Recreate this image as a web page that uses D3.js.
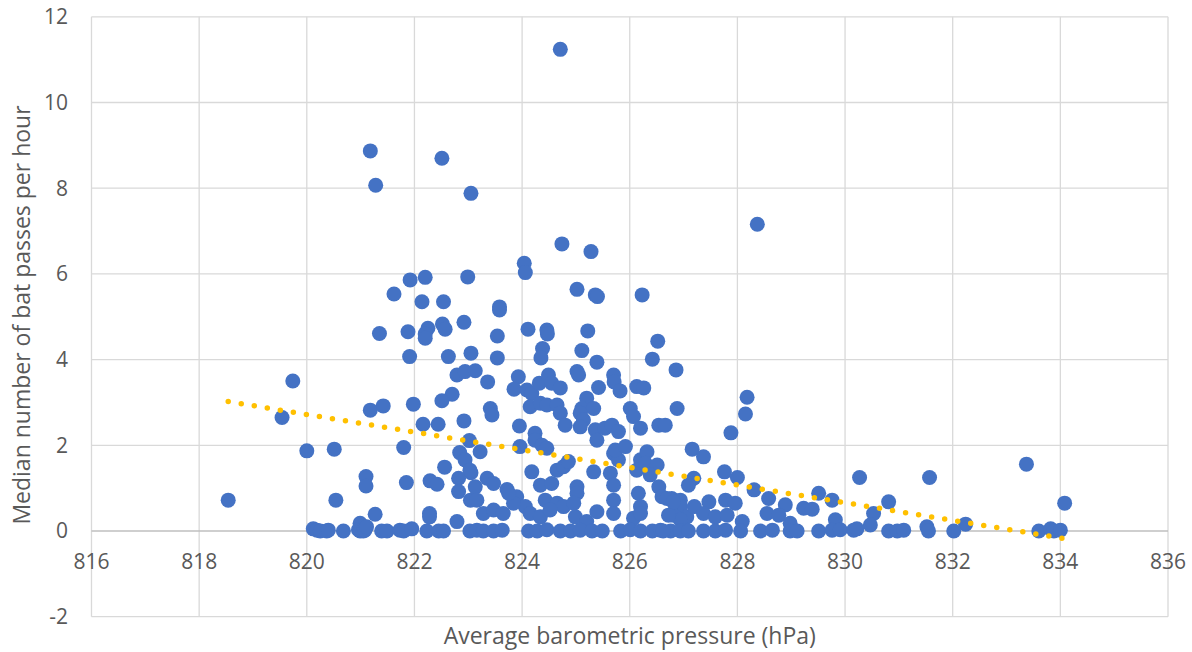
<!DOCTYPE html>
<html>
<head>
<meta charset="utf-8">
<title>Bat passes vs barometric pressure</title>
<script src="https://cdn.jsdelivr.net/npm/d3@7"></script>
<style>
  body { margin: 0; background: #fff; }
  text { font-family: "Open Sans", "Liberation Sans", sans-serif; fill: #595959; }
</style>
</head>
<body>
<svg id="chart" width="1192" height="652"></svg>
<script>
// average barometric pressure (hPa), one entry per night
const pressure = [
  824.71, 821.18, 822.51, 821.28, 823.05, 828.37, 824.74, 825.28, 824.04, 824.06,
  822.99, 822.20, 821.92, 825.02, 821.62, 825.36, 825.40, 826.23, 822.14, 822.54,
  823.58, 823.58, 822.92, 822.52, 822.57, 822.25, 822.20, 822.20, 821.35, 821.88,
  824.11, 824.46, 824.47, 825.22, 823.54, 826.52, 824.38, 824.35, 825.11, 823.05,
  821.91, 822.63, 823.54, 825.39, 826.42, 826.86, 822.79, 822.94, 823.13, 819.74,
  823.36, 823.93, 823.85, 824.09, 824.18, 824.32, 824.49, 824.55, 824.71, 825.02,
  825.05, 825.70, 825.71, 825.82, 825.42, 826.13, 826.26, 822.70, 826.88, 823.41,
  824.15, 824.34, 824.46, 824.65, 825.20, 825.11, 825.33, 826.01, 819.54, 821.18,
  821.42, 821.98, 822.51, 822.16, 822.44, 822.92, 823.02, 820.00, 820.51, 821.80,
  822.84, 822.94, 822.56, 823.05, 821.10, 821.10, 821.85, 822.29, 822.42, 822.82,
  822.82, 823.04, 823.13, 818.54, 820.54, 821.27, 822.28, 822.28, 822.79, 820.99,
  820.12, 820.19, 820.25, 820.37, 820.40, 820.68, 820.96, 820.99, 821.05, 821.08,
  821.11, 821.39, 821.49, 821.73, 821.80, 821.95, 822.23, 822.45, 822.54, 823.03,
  823.16,
  824.71, 824.80, 823.95, 825.08, 825.14, 825.08, 825.36, 825.39, 825.54, 825.67,
  825.79, 826.07, 826.20, 826.54, 826.66, 824.24, 824.24, 824.37, 824.46, 823.96,
  823.22, 823.03, 823.16, 823.35, 823.47, 823.72, 823.90, 824.06, 824.18, 824.34,
  824.55, 824.65, 824.77, 824.86, 825.33, 825.02, 825.02, 824.43, 824.65, 824.77,
  824.96, 825.70, 825.79, 825.73, 825.92, 825.64, 825.70, 825.70, 826.13, 826.20,
  826.32, 826.29, 826.51, 826.38, 826.16, 826.20, 826.54, 826.60, 826.78, 826.94,
  826.85, 826.94, 827.06, 823.28, 823.47, 823.65, 823.84, 823.75, 824.15, 824.34,
  824.52, 824.99, 825.20, 825.39, 825.70, 826.07, 826.20, 826.81, 826.94, 823.44,
  823.28, 823.47, 823.63, 824.12, 824.28, 824.46, 824.71, 824.90, 825.08, 825.30,
  825.49, 825.83, 826.01, 826.20, 826.42, 826.57, 826.76, 826.94, 827.09,
  828.18, 828.15, 827.88, 827.16, 827.37, 827.76, 828.00, 827.19, 827.09, 828.31,
  828.58, 828.89, 829.23, 829.39, 829.51, 829.76, 826.69, 826.81, 827.20, 827.47,
  827.78, 827.96, 826.72, 827.37, 827.59, 827.81, 828.09, 828.55, 828.77, 828.98,
  829.82,
  826.62, 827.37, 827.59, 827.78, 828.06, 828.43, 828.65, 828.98, 829.11, 829.51,
  829.76,
  830.27, 831.57, 833.37, 834.08, 830.81, 830.53, 830.47, 832.24, 831.52, 832.02,
  829.91, 830.16, 830.22, 830.81, 830.97, 831.09, 831.55, 833.60, 833.82, 833.88,
  834.00
];

// median number of bat passes per hour, same order as pressure
const batPasses = [
  11.24, 8.87, 8.70, 8.07, 7.88, 7.16, 6.70, 6.52, 6.25, 6.03,
  5.93, 5.92, 5.86, 5.64, 5.53, 5.51, 5.47, 5.51, 5.35, 5.35,
  5.23, 5.16, 4.87, 4.83, 4.71, 4.73, 4.60, 4.50, 4.61, 4.65,
  4.71, 4.69, 4.60, 4.67, 4.55, 4.43, 4.26, 4.04, 4.21, 4.15,
  4.07, 4.07, 4.04, 3.94, 4.01, 3.76, 3.64, 3.72, 3.74, 3.50,
  3.48, 3.60, 3.31, 3.29, 3.21, 3.45, 3.64, 3.45, 3.34, 3.72,
  3.64, 3.64, 3.48, 3.27, 3.35, 3.37, 3.34, 3.19, 2.86, 2.86,
  2.90, 2.98, 2.94, 2.94, 3.10, 2.86, 2.86, 2.86, 2.65, 2.82,
  2.92, 2.96, 3.04, 2.49, 2.49, 2.57, 2.11, 1.87, 1.91, 1.95,
  1.83, 1.66, 1.49, 1.36, 1.27, 1.05, 1.13, 1.17, 1.09, 1.23,
  0.92, 0.72, 1.03, 0.72, 0.72, 0.39, 0.41, 0.33, 0.22, 0.18,
  0.05, 0.02, 0.00, 0.00, 0.02, 0.00, 0.03, 0.00, 0.00, 0.02,
  0.10, 0.00, 0.00, 0.02, 0.00, 0.05, 0.00, 0.00, 0.00, 0.00,
  0.02,
  2.75, 2.47, 2.45, 2.75, 2.59, 2.43, 2.36, 2.12, 2.40, 2.47,
  2.32, 2.67, 2.40, 2.47, 2.47, 2.28, 2.12, 2.00, 1.93, 1.97,
  1.85, 1.42, 0.72, 1.23, 1.11, 0.97, 0.80, 0.57, 1.38, 1.07,
  1.11, 1.42, 1.50, 1.62, 1.38, 1.03, 0.88, 0.72, 0.65, 0.57,
  0.65, 1.81, 1.66, 1.89, 1.97, 1.35, 1.07, 0.72, 1.42, 1.66,
  1.85, 1.58, 1.54, 1.31, 0.88, 0.57, 1.03, 0.80, 0.76, 0.72,
  0.49, 0.57, 0.33, 0.41, 0.49, 0.41, 0.65, 0.88, 0.41, 0.33,
  0.49, 0.33, 0.22, 0.45, 0.41, 0.30, 0.41, 0.37, 0.26, 2.71,
  0.00, 0.00, 0.02, 0.00, 0.00, 0.03, 0.00, 0.00, 0.02, 0.00,
  0.00, 0.00, 0.03, 0.00, 0.00, 0.02, 0.00, 0.00, 0.00,
  3.12, 2.73, 2.29, 1.91, 1.73, 1.38, 1.25, 1.23, 1.07, 0.96,
  0.76, 0.61, 0.53, 0.51, 0.88, 0.72, 0.76, 0.68, 0.57, 0.68,
  0.72, 0.65, 0.37, 0.41, 0.33, 0.37, 0.22, 0.41, 0.37, 0.18,
  0.26,
  0.00, 0.00, 0.00, 0.02, 0.00, 0.00, 0.02, 0.00, 0.00, 0.00,
  0.02,
  1.25, 1.25, 1.56, 0.65, 0.68, 0.41, 0.14, 0.16, 0.10, 0.00,
  0.03, 0.02, 0.05, 0.00, 0.00, 0.02, 0.00, 0.00, 0.05, 0.00,
  0.02
];

// linear trendline end points as drawn
const trendPressure = [818.54, 834.08];
const trendPasses = [3.02, -0.18];

const xTicks = [816, 818, 820, 822, 824, 826, 828, 830, 832, 834, 836];
const yTicks = [-2, 0, 2, 4, 6, 8, 10, 12];

const xTitle = "Average barometric pressure (hPa)";
const yTitle = "Median number of bat passes per hour";

var svg = d3.select("#chart"),
    plotLeft = 91.5, plotRight = 1168, plotTop = 16.8, plotBottom = 616.7;

var x = d3.scaleLinear().domain([816, 836]).range([plotLeft, plotRight]),
    y = d3.scaleLinear().domain([-2, 12]).range([plotBottom, plotTop]);

// gridlines
var grid = svg.append("g");
grid.selectAll(".vgrid")
  .data(xTicks)
  .enter().append("line")
    .attr("x1", d => x(d)).attr("x2", d => x(d))
    .attr("y1", plotTop).attr("y2", plotBottom)
    .attr("stroke", "#d9d9d9")
    .attr("stroke-width", 1.3);

grid.selectAll(".hgrid")
  .data(yTicks)
  .enter().append("line")
    .attr("x1", plotLeft).attr("x2", plotRight)
    .attr("y1", d => y(d)).attr("y2", d => y(d))
    .attr("stroke", d => d === 0 ? "#bfbfbf" : "#d9d9d9")
    .attr("stroke-width", 1.3);

// tick labels
svg.append("g").selectAll("text")
  .data(xTicks)
  .enter().append("text")
    .attr("x", d => x(d))
    .attr("y", y(0) + 31)
    .attr("dy", "0.35em")
    .attr("text-anchor", "middle")
    .style("font-size", "21px")
    .text(d => d);

svg.append("g").selectAll("text")
  .data(yTicks)
  .enter().append("text")
    .attr("x", 68)
    .attr("y", d => y(d))
    .attr("dy", "0.35em")
    .attr("text-anchor", "end")
    .style("font-size", "21px")
    .text(d => d);

// axis titles
svg.append("text")
  .attr("x", (plotLeft + plotRight) / 2)
  .attr("y", 636)
  .attr("dy", "0.35em")
  .attr("text-anchor", "middle")
  .style("font-size", "23px")
  .text(xTitle);

svg.append("text")
  .attr("transform", "translate(22,315) rotate(-90)")
  .attr("dy", "0.35em")
  .attr("text-anchor", "middle")
  .style("font-size", "23px")
  .text(yTitle);

// points
svg.append("g").selectAll("circle")
  .data(pressure.map((p, i) => [p, batPasses[i]]))
  .enter().append("circle")
    .attr("cx", d => x(d[0]))
    .attr("cy", d => y(d[1]))
    .attr("r", 7.5)
    .attr("fill", "#4472c4");

// dotted linear trendline
svg.append("line")
  .attr("x1", x(trendPressure[0])).attr("y1", y(trendPasses[0]))
  .attr("x2", x(trendPressure[1])).attr("y2", y(trendPasses[1]))
  .attr("stroke", "#ffc000")
  .attr("stroke-width", 5.5)
  .attr("stroke-linecap", "round")
  .attr("stroke-dasharray", "0 13.2");
</script>
</body>
</html>
